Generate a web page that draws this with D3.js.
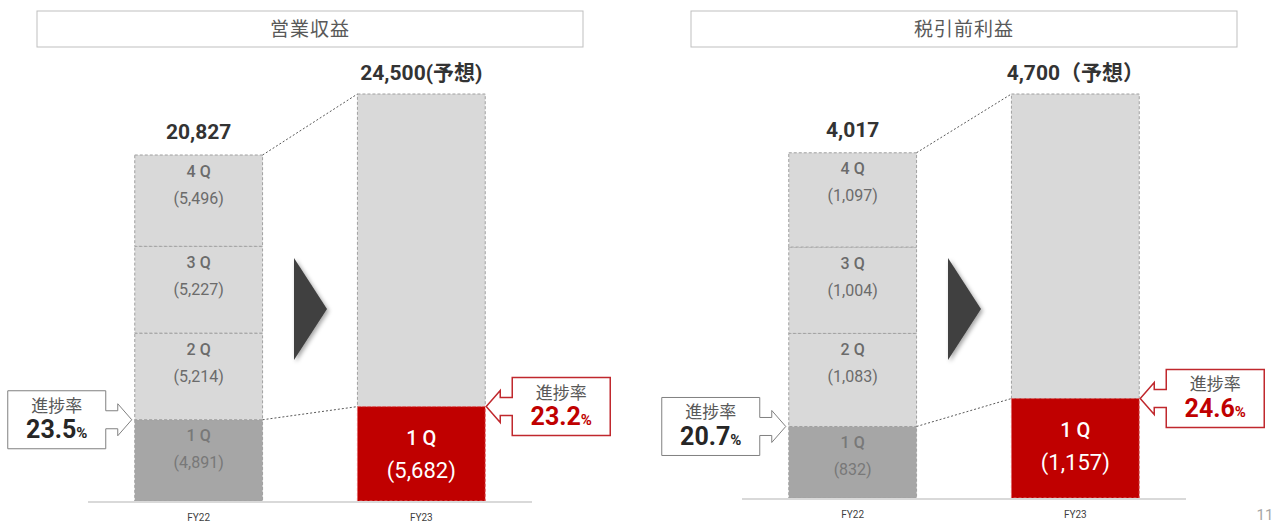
<!DOCTYPE html>
<html>
<head>
<meta charset="utf-8">
<script src="https://cdn.jsdelivr.net/npm/d3@7"></script>
<style>
  html, body { margin: 0; padding: 0; background: #fff; }
  svg { display: block; }
  text { font-family: Roboto, "Noto Sans CJK JP", sans-serif; }
  .jp { font-family: "Noto Sans CJK JP", sans-serif; }
</style>
</head>
<body>
<div id="chart"></div>
<script>
// periods and quarter names
const periods = ["FY22", "FY23"];
const quarters = ["1 Q", "2 Q", "3 Q", "4 Q"];

// 営業収益
const revenueTitle = "営業収益";
const revenueFY22 = [4891, 5214, 5227, 5496];
const revenueFY23 = [5682];
const revenueTotals = [20827, 24500];
const revenueTotalLabels = ["20,827", "24,500(予想)"];
const revenueProgress = ["23.5", "23.2"];

// 税引前利益
const profitTitle = "税引前利益";
const profitFY22 = [832, 1083, 1004, 1097];
const profitFY23 = [1157];
const profitTotals = [4017, 4700];
const profitTotalLabels = ["4,017", "4,700（予想）"];
const profitProgress = ["20.7", "24.6"];

const pageNumber = "11";

const width = 1279;
const height = 523;
const fmt = d3.format(",");

const svg = d3
  .select("#chart")
  .append("svg")
  .attr("width", width)
  .attr("height", height);

const defs = svg.append("defs");
const shadow = defs.append("filter").attr("id", "shadow")
  .attr("x", "-50%").attr("y", "-50%").attr("width", "200%").attr("height", "200%");
shadow.append("feDropShadow")
  .attr("dx", 2).attr("dy", 2).attr("stdDeviation", 2)
  .attr("flood-color", "#000").attr("flood-opacity", 0.35);

function drawPanel(opt) {
  const g = svg.append("g");

  const x = d3.scaleBand()
    .domain(periods)
    .range([opt.left, opt.left + 444])
    .paddingInner(0.426)
    .paddingOuter(0.21);

  const y = d3.scaleLinear()
    .domain([0, opt.totals[1]])
    .range([opt.baseline, 94]);

  const mid = opt.left + 222;

  // title box
  g.append("rect")
    .attr("x", mid - 273).attr("y", 11)
    .attr("width", 546).attr("height", 36)
    .attr("fill", "#fff").attr("stroke", "#bfbfbf").attr("stroke-width", 1);
  g.append("text")
    .attr("class", "jp")
    .attr("x", mid).attr("y", 29).attr("dy", "0.35em")
    .attr("text-anchor", "middle")
    .attr("font-size", 19).attr("letter-spacing", 1)
    .attr("fill", "#595959")
    .text(opt.title);

  // stacked quarters FY22
  let acc = 0;
  const segs = opt.fy22.map((v, i) => {
    const s = { q: quarters[i], v: v, y0: acc, y1: acc + v };
    acc += v;
    return s;
  });

  const bw = x.bandwidth();
  const x22 = x("FY22");
  const x23 = x("FY23");

  g.selectAll("rect.q22")
    .data(segs)
    .enter()
    .append("rect")
    .attr("class", "q22")
    .attr("x", x22)
    .attr("y", (d) => y(d.y1))
    .attr("width", bw)
    .attr("height", (d) => y(d.y0) - y(d.y1))
    .attr("fill", (d, i) => (i === 0 ? "#a6a6a6" : "#d9d9d9"))
    .attr("stroke", "#a0a0a0")
    .attr("stroke-dasharray", "3,2")
    .attr("stroke-width", 1);

  g.selectAll("text.ql")
    .data(segs)
    .enter()
    .append("text")
    .attr("class", "ql")
    .attr("x", x22 + bw / 2)
    .attr("y", (d) => y(d.y1) + 16)
    .attr("dy", "0.35em")
    .attr("text-anchor", "middle")
    .attr("font-size", 16)
    .attr("font-weight", 500)
    .attr("fill", (d, i) => (i === 0 ? "#787878" : "#6b6b6b"))
    .text((d) => d.q);

  g.selectAll("text.qv")
    .data(segs)
    .enter()
    .append("text")
    .attr("class", "qv")
    .attr("x", x22 + bw / 2)
    .attr("y", (d) => y(d.y1) + 43)
    .attr("dy", "0.35em")
    .attr("text-anchor", "middle")
    .attr("font-size", 16)
    .attr("fill", (d, i) => (i === 0 ? "#787878" : "#6b6b6b"))
    .text((d) => `(${fmt(d.v)})`);

  // FY23: forecast remainder + 1Q actual
  const q1 = opt.fy23[0];
  g.append("rect")
    .attr("x", x23).attr("y", y(opt.totals[1]))
    .attr("width", bw).attr("height", y(q1) - y(opt.totals[1]))
    .attr("fill", "#d9d9d9").attr("stroke", "#a0a0a0")
    .attr("stroke-dasharray", "3,2");
  g.append("rect")
    .attr("x", x23).attr("y", y(q1))
    .attr("width", bw).attr("height", y(0) - y(q1))
    .attr("fill", "#c00000").attr("stroke", "#e06666")
    .attr("stroke-dasharray", "3,2");
  g.append("text")
    .attr("x", x23 + bw / 2).attr("y", y(q1) + 31).attr("dy", "0.35em")
    .attr("text-anchor", "middle").attr("font-size", 20).attr("font-weight", 500)
    .attr("fill", "#fff").text(quarters[0]);
  g.append("text")
    .attr("x", x23 + bw / 2).attr("y", y(q1) + 64).attr("dy", "0.35em")
    .attr("text-anchor", "middle").attr("font-size", 22)
    .attr("fill", "#fff").text(`(${fmt(q1)})`);

  // totals above bars
  periods.forEach((p, i) => {
    g.append("text")
      .attr("x", x(p) + bw / 2)
      .attr("y", y(opt.totals[i]) - (i === 0 ? 23 : 21))
      .attr("dy", "0.35em")
      .attr("text-anchor", "middle")
      .attr("font-size", 21)
      .attr("font-weight", "bold")
      .attr("fill", "#333")
      .text(opt.totalLabels[i]);
  });

  // dotted connectors
  const conn = [
    [x22 + bw, y(opt.totals[0]), x23, y(opt.totals[1])],
    [x22 + bw, y(opt.fy22[0]), x23, y(q1)],
  ];
  g.selectAll("line.conn")
    .data(conn)
    .enter()
    .append("line")
    .attr("class", "conn")
    .attr("x1", (d) => d[0]).attr("y1", (d) => d[1])
    .attr("x2", (d) => d[2]).attr("y2", (d) => d[3])
    .attr("stroke", "#595959").attr("stroke-width", 1)
    .attr("stroke-dasharray", "2,2");

  // baseline + category labels
  g.append("line")
    .attr("x1", opt.left).attr("x2", opt.left + 444)
    .attr("y1", y(0) + 1).attr("y2", y(0) + 1)
    .attr("stroke", "#d9d9d9").attr("stroke-width", 2);
  g.selectAll("text.cat")
    .data(periods)
    .enter()
    .append("text")
    .attr("class", "cat")
    .attr("x", (d) => x(d) + bw / 2)
    .attr("y", opt.baseline + 16)
    .attr("dy", "0.35em")
    .attr("text-anchor", "middle")
    .attr("font-size", 10)
    .attr("fill", "#404040")
    .text((d) => d);

  // big arrow between bars
  const gx = (x22 + bw + x23) / 2;
  g.append("path")
    .attr("d", `M${gx - 16},258 L${gx + 17},309 L${gx - 16},360 Z`)
    .attr("fill", "#404040")
    .attr("filter", "url(#shadow)");

  // progress callouts
  function callout(tipX, tipY, dir, value, red) {
    // dir = 1 -> points right (box on left), -1 -> points left
    const bwid = 98, bh = 58, shaft = 12, head = 14, sh = 9, hh = 16;
    const hx = tipX - dir * head;
    const bx = hx - dir * shaft;
    const far = bx - dir * bwid;
    const pts = [
      [far, tipY - bh / 2],
      [bx, tipY - bh / 2],
      [bx, tipY - sh],
      [hx, tipY - sh],
      [hx, tipY - hh],
      [tipX, tipY],
      [hx, tipY + hh],
      [hx, tipY + sh],
      [bx, tipY + sh],
      [bx, tipY + bh / 2],
      [far, tipY + bh / 2],
    ];
    g.append("path")
      .attr("d", d3.line()(pts) + "Z")
      .attr("fill", "#fff")
      .attr("stroke", red ? "#c0282d" : "#808080")
      .attr("stroke-width", red ? 1.5 : 1);
    const cx = (far + bx) / 2;
    g.append("text")
      .attr("class", "jp")
      .attr("x", cx).attr("y", tipY - 14).attr("dy", "0.35em")
      .attr("text-anchor", "middle").attr("font-size", 17)
      .attr("fill", "#595959").text("進捗率");
    const t = g.append("text")
      .attr("x", cx).attr("y", tipY + 13).attr("dy", "0.35em")
      .attr("text-anchor", "middle")
      .attr("fill", red ? "#c00000" : "#262626");
    t.append("tspan").attr("font-size", 25).attr("font-weight", "bold").text(value);
    t.append("tspan").attr("font-size", 15).attr("font-weight", "bold").text("%");
  }
  callout(x22 - 3, y(opt.fy22[0]), 1, opt.progress[0], false);
  callout(x23 + bw + 1, y(q1), -1, opt.progress[1], true);
}

drawPanel({
  left: 88,
  baseline: 501,
  title: revenueTitle,
  fy22: revenueFY22,
  fy23: revenueFY23,
  totals: revenueTotals,
  totalLabels: revenueTotalLabels,
  progress: revenueProgress,
});

drawPanel({
  left: 742,
  baseline: 498,
  title: profitTitle,
  fy22: profitFY22,
  fy23: profitFY23,
  totals: profitTotals,
  totalLabels: profitTotalLabels,
  progress: profitProgress,
});

svg.append("text")
  .attr("x", 1265).attr("y", 515).attr("dy", "0.35em")
  .attr("text-anchor", "middle").attr("font-size", 15)
  .attr("fill", "#a6a6a6").text(pageNumber);
</script>
</body>
</html>
